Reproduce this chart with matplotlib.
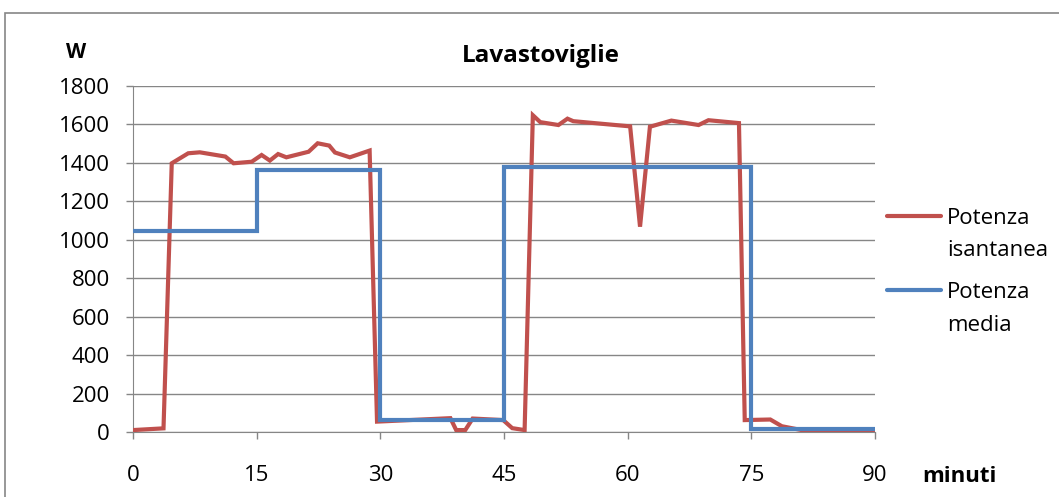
import matplotlib
matplotlib.use("Agg")
import numpy as np
import matplotlib.pyplot as plt
from matplotlib.patches import Rectangle
from matplotlib.lines import Line2D
from matplotlib.legend_handler import HandlerLine2D

plt.rcParams['font.family'] = ['Open Sans', 'DejaVu Sans']

# Data
inst_x = [0, 3.7, 4.7, 6.7, 8.1, 11.2, 12.2, 14.4, 15.6, 16.6, 17.6, 18.6, 21.3, 22.4, 23.8,
          24.5, 26.3, 28.7, 29.6, 38.5, 39.2, 40.3, 41.2, 44.9, 46.0, 47.5, 48.5, 49.4, 51.6,
          52.7, 53.4, 60.3, 61.5, 62.7, 65.3, 68.6, 69.8, 73.5, 74.2, 77.3, 78.7, 81.1, 90]
inst_y = [10, 19, 1398, 1450, 1455, 1433, 1398, 1406, 1441, 1412, 1446, 1429, 1458, 1502, 1490,
          1454, 1429, 1464, 54, 72, 10, 10, 70, 62, 20, 10, 1648, 1612, 1597,
          1630, 1617, 1590, 1068, 1588, 1620, 1597, 1622, 1607, 62, 65, 30, 10, 10]

mean_x = [0, 15, 15, 30, 30, 45, 45, 75, 75, 90]
mean_y = [1045, 1045, 1365, 1365, 60, 60, 1378, 1378, 18, 18]

xticks = [0, 15, 30, 45, 60, 75, 90]
yticks = list(range(0, 2000, 200))

W, H = 1059, 497
FS = 16
fig = plt.figure(figsize=(W / 100, H / 100), dpi=100)
ax = fig.add_axes([133 / W, 1 - 432 / H, (875 - 133) / W, (432 - 86) / H])

red = '#C0504D'
blue = '#4F81BD'
ax.plot(inst_x, inst_y, color=red, lw=3, solid_joinstyle='miter', label='Potenza\nisantanea', zorder=3)
ax.plot(mean_x, mean_y, color=blue, lw=3, solid_joinstyle='miter', label='Potenza\nmedia', zorder=4)

ax.set_xlim(0, 90)
ax.set_ylim(0, 1800)
ax.set_xticks(xticks)
ax.set_yticks(yticks)
ax.grid(axis='y', color='#868686', lw=1)
ax.set_axisbelow(True)
for s in ['top', 'right']:
    ax.spines[s].set_visible(False)
for s in ['left', 'bottom']:
    ax.spines[s].set_color('#868686')
ax.tick_params(axis='both', colors='#868686', labelcolor='black', labelsize=FS, length=5, width=1)
ax.tick_params(axis='x', pad=19)
ax.tick_params(axis='y', pad=11.5)

fig.text(541 / W, 1 - 62 / H, 'Lavastoviglie', ha='center', va='baseline', fontsize=17.5, fontweight='bold')
fig.text(76 / W, 1 - 58 / H, 'W', ha='center', va='baseline', fontsize=15, fontweight='bold')
fig.text(959 / W, 1 - 482 / H, 'minuti', ha='center', va='baseline', fontsize=FS, fontweight='bold')


class TopLineHandler(HandlerLine2D):
    def create_artists(self, legend, orig_handle, xdescent, ydescent, width, height, fontsize, trans):
        arts = super().create_artists(legend, orig_handle, xdescent, ydescent, width, height, fontsize, trans)
        for a in arts:
            if isinstance(a, Line2D):
                a.set_ydata(np.asarray(a.get_ydata()) + 0.86 * fontsize)
                a.set_solid_capstyle('round')
        return arts


leg = ax.legend(loc='upper left', bbox_to_anchor=(887 / W, 1 - 208 / H), bbox_transform=fig.transFigure,
                frameon=False, fontsize=FS, handlelength=2.43, handletextpad=0.27, labelspacing=0.95,
                borderpad=0, borderaxespad=0,
                handler_map={Line2D: TopLineHandler()})
for t in leg.get_texts():
    t.set_linespacing(1.71)

fig.patches.append(Rectangle((5 / W, -0.1), 1.2, 1 - 13 / H + 0.1, transform=fig.transFigure,
                             fill=False, edgecolor='#868686', lw=1.2))

fig.savefig('out.png', dpi=100)
